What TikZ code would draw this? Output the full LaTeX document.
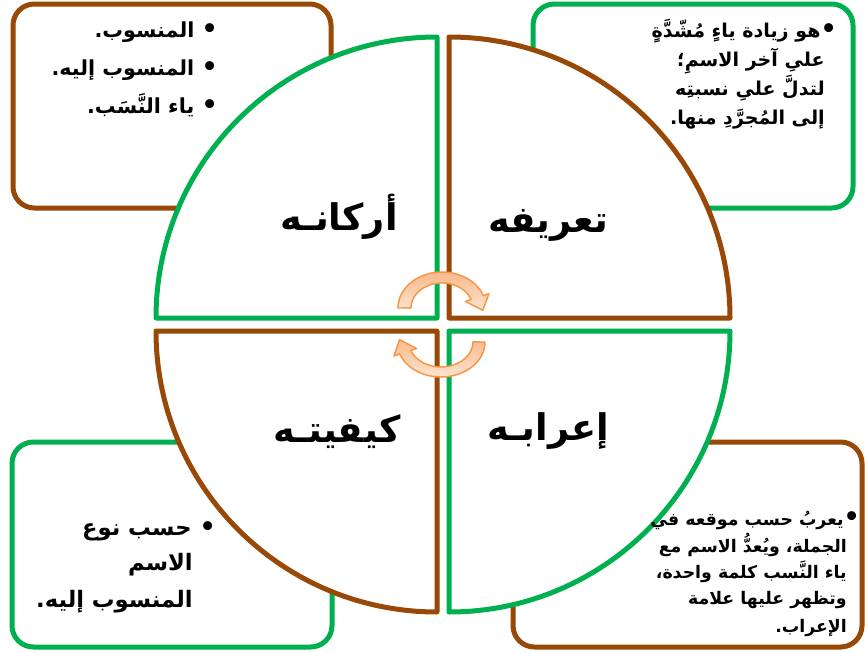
\documentclass[tikz,border=0pt]{standalone}
\usepackage{fontspec}
\TeXXeTstate=1
\newfontfamily\arabicfont[Script=Arabic]{DejaVu Sans}
\definecolor{grn}{HTML}{00B050}
\definecolor{brn}{HTML}{984807}
\definecolor{orl}{HTML}{F79646}
\definecolor{orfa}{HTML}{F9B98A}
\definecolor{orfb}{HTML}{FDE4D0}
\newcommand{\bul}{{\fontsize{19}{19}\selectfont •}}
\tikzset{
  boxshape/.style={line width=3.75pt, rounded corners=16pt, fill=white},
  quad/.style={line width=3.75pt, fill=white, line join=round},
  lbl/.style={font=\arabicfont\bfseries\fontsize{27.5}{33}\selectfont, anchor=base, inner sep=0pt},
  txt/.style={font=\arabicfont\bfseries\fontsize{13}{16}\selectfont, anchor=base east, inner sep=0pt},
  txtA/.style={txt, font=\arabicfont\bfseries\fontsize{15.5}{18}\selectfont},
  txtB/.style={txt, font=\arabicfont\bfseries\fontsize{14.3}{17}\selectfont},
  txtC/.style={txt, font=\arabicfont\bfseries\fontsize{17}{20}\selectfont},
  arr/.style={draw=orl, line width=1.1pt, top color=orfa, bottom color=orfb, line join=round}
}
\begin{document}
\begin{tikzpicture}[x=0.75pt, y=-0.75pt]
\useasboundingbox[fill=white] (0,0) rectangle (865,653);
% boxes
\draw[boxshape, draw=brn] (13,4) rectangle (331,208);
\draw[boxshape, draw=grn] (533,4) rectangle (853,208);
\draw[boxshape, draw=grn] (12,442) rectangle (332,647);
\draw[boxshape, draw=brn] (513,442) rectangle (862,647);
% quadrants
\draw[quad, draw=grn] (437,318) -- (156,318) arc[start angle=180, end angle=270, radius=281] -- cycle;
\draw[quad, draw=brn] (449,37) -- (449,318) -- (730,318) arc[start angle=0, end angle=-90, radius=281] -- cycle;
\draw[quad, draw=brn] (437,331) -- (156,331) arc[start angle=180, end angle=90, radius=281] -- cycle;
\draw[quad, draw=grn] (449,331) -- (730,331) arc[start angle=0, end angle=90, radius=281] -- cycle;
% labels
\node[lbl] (arkan) at (339,230) {\beginR أركانـه\endR};
\node[lbl] (tarif) at (548,232) {\beginR تعريفه\endR};
\node[lbl] (kayf) at (337,442) {\beginR كيفيتـه\endR};
\node[lbl] (irab) at (548,440) {\beginR إعرابـه\endR};
% texts
\node[txtA] (tl1) at (218,37) {\beginR \bul{} المنسوب.\endR};
\node[txtA] (tl2) at (218,75) {\beginR \bul{} المنسوب إليه.\endR};
\node[txtA] (tl3) at (218,113) {\beginR \bul{} ياء النَّسَب.\endR};
\node[txtB] (tr1) at (837,37) {\beginR \bul هو زيادة ياءٍ مُشّدَّةٍ\endR};
\node[txtB] (tr2) at (825,66) {\beginR علىِ آخر الاسمِ؛\endR};
\node[txtB] (tr3) at (825,95) {\beginR لتدلَّ علىِ نسبتِه\endR};
\node[txtB] (tr4) at (825,124) {\beginR إلى المُجرَّدِ منها.\endR};
\node[txtC] (bl1) at (216,535) {\beginR \bul{} حسب نوع\endR};
\node[txtC] (bl2) at (193,570) {\beginR الاسم\endR};
\node[txtC] (bl3) at (193,607) {\beginR المنسوب إليه.\endR};
\node[txt] (br1) at (860,525) {\beginR \bul يعربُ حسب موقعه في\endR};
\node[txt] (br2) at (847,552) {\beginR الجملة، ويُعدُّ الاسم مع\endR};
\node[txt] (br3) at (847,578) {\beginR ياء النَّسب كلمة واحدة،\endR};
\node[txt] (br4) at (847,604) {\beginR وتظهر عليها علامة\endR};
\node[txt] (br5) at (847,632) {\beginR الإعراب.\endR};
% arrows
\path[arr] (398,308) arc[start angle=180, end angle=340, x radius=44, y radius=36]
  -- (489,293.6) -- (482.7,310.3) -- (465.5,301.5) -- (471.1,299.4)
  arc[start angle=340, end angle=180, x radius=31, y radius=25] -- cycle;
\path[arr] (485,342) arc[start angle=0, end angle=160, x radius=44, y radius=35]
  -- (394,356) -- (399.5,339.6) -- (416.6,348.5) -- (410.9,350.5)
  arc[start angle=160, end angle=0, x radius=32, y radius=25] -- cycle;
\end{tikzpicture}
\end{document}
